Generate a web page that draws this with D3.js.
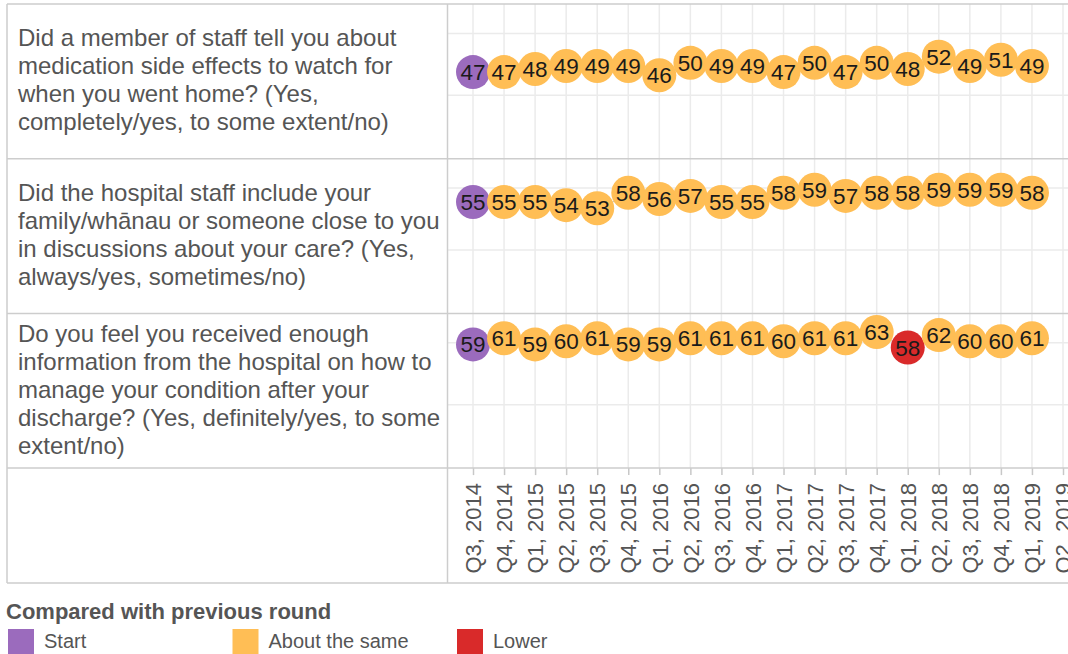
<!DOCTYPE html>
<html>
<head>
<meta charset="utf-8">
<script src="https://cdn.jsdelivr.net/npm/d3@7"></script>
<style>
  body { margin: 0; background: #fff; }
  svg { display: block; font-family: "Liberation Sans", Arial, sans-serif; }
</style>
</head>
<body>
<svg width="1068" height="654"></svg>
<script>
// quarters on the x axis
const quarters = ["Q3, 2014", "Q4, 2014", "Q1, 2015", "Q2, 2015", "Q3, 2015", "Q4, 2015",
  "Q1, 2016", "Q2, 2016", "Q3, 2016", "Q4, 2016", "Q1, 2017", "Q2, 2017", "Q3, 2017",
  "Q4, 2017", "Q1, 2018", "Q2, 2018", "Q3, 2018", "Q4, 2018", "Q1, 2019", "Q2, 2019"]

// question text, one entry per line as wrapped in the chart
const questionLines = [
  ["Did a member of staff tell you about", "medication side effects to watch for",
   "when you went home? (Yes,", "completely/yes, to some extent/no)"],
  ["Did the hospital staff include your", "family/whānau or someone close to you",
   "in discussions about your care? (Yes,", "always/yes, sometimes/no)"],
  ["Do you feel you received enough", "information from the hospital on how to",
   "manage your condition after your", "discharge? (Yes, definitely/yes, to some",
   "extent/no)"]
]

// scores per question
const sideEffects = [47, 47, 48, 49, 49, 49, 46, 50, 49, 49, 47, 50, 47, 50, 48, 52, 49, 51, 49]
const familyIncluded = [55, 55, 55, 54, 53, 58, 56, 57, 55, 55, 58, 59, 57, 58, 58, 59, 59, 59, 58]
const enoughInfo = [59, 61, 59, 60, 61, 59, 59, 61, 61, 61, 60, 61, 61, 63, 58, 62, 60, 60, 61]

// compared with previous round
const statusSideEffects = ["Start"].concat(Array(18).fill("About the same"))
const statusFamily = ["Start"].concat(Array(18).fill("About the same"))
const statusInfo = ["Start", "About the same", "About the same", "About the same", "About the same",
  "About the same", "About the same", "About the same", "About the same", "About the same",
  "About the same", "About the same", "About the same", "About the same", "Lower",
  "About the same", "About the same", "About the same", "About the same"]

const legendLabels = ["Start", "About the same", "Lower"]
const legendColors = ["#9b6bbd", "#ffbe55", "#d92a2a"]

const rows = [
  { lines: questionLines[0], values: sideEffects, status: statusSideEffects },
  { lines: questionLines[1], values: familyIncluded, status: statusFamily },
  { lines: questionLines[2], values: enoughInfo, status: statusInfo }
]

const svg = d3.select("svg")

const frameLeft = 7
const divider = 447.5
const frameTop = 4
const rowH = 154.7
const axisY = frameTop + rowH * rows.length
const frameBottom = 583
const frameRight = 1100

const color = d3.scaleOrdinal().domain(legendLabels).range(legendColors)

const x = d3.scalePoint()
  .domain(quarters)
  .range([473, 1063])

const y = d3.scaleLinear()
  .domain([19.5, 69.5])
  .range([rowH, 0])

const grid = svg.append("g")

// vertical gridlines in the plot rows
grid.selectAll("line.v")
  .data(quarters)
  .enter()
  .append("line")
  .attr("x1", d => x(d))
  .attr("x2", d => x(d))
  .attr("y1", frameTop)
  .attr("y2", axisY)
  .attr("stroke", "#ebebeb")
  .attr("stroke-width", 1.5)

rows.forEach((row, r) => {
  const g = svg.append("g")
    .attr("transform", `translate(0,${frameTop + r * rowH})`)

  // horizontal gridlines
  g.selectAll("line.h")
    .data([40, 60])
    .enter()
    .append("line")
    .attr("x1", divider)
    .attr("x2", frameRight)
    .attr("y1", d => y(d))
    .attr("y2", d => y(d))
    .attr("stroke", "#ebebeb")
    .attr("stroke-width", 1.5)

  // question label, vertically centred in the row
  const n = row.lines.length
  g.append("text")
    .attr("fill", "#555")
    .style("font-size", "24px")
    .selectAll("tspan")
    .data(row.lines)
    .enter()
    .append("tspan")
    .attr("x", 18)
    .attr("y", (d, i) => rowH / 2 + (i - (n - 1) / 2) * 28 + 7)
    .text(d => d)

  // thin line joining the points
  const line = d3.line()
    .x((d, i) => x(quarters[i]))
    .y(d => y(d))

  g.append("path")
    .datum(row.values)
    .attr("d", line)
    .attr("fill", "none")
    .attr("stroke", "#bdbdbd")
    .attr("stroke-width", 1)

  const dots = g.selectAll("g.dot")
    .data(row.values)
    .enter()
    .append("g")
    .attr("transform", (d, i) => `translate(${x(quarters[i])},${y(d) - 1.5})`)

  dots.append("circle")
    .attr("r", 17)
    .attr("fill", (d, i) => color(row.status[i]))

  dots.append("text")
    .attr("text-anchor", "middle")
    .attr("dy", "0.36em")
    .attr("fill", "#1a1a1a")
    .style("font-size", "22.5px")
    .text(d => d)
})

// x axis with rotated quarter labels
const xAxis = d3.axisBottom(x).tickSize(7).tickSizeOuter(0)

const axisG = svg.append("g")
  .attr("transform", `translate(0,${axisY})`)
  .call(xAxis)

axisG.select(".domain").remove()
axisG.selectAll(".tick line").attr("stroke", "#c8c8c8").attr("stroke-width", 1.5)
axisG.selectAll(".tick text")
  .attr("transform", "rotate(-90)")
  .attr("x", -15)
  .attr("y", 0)
  .attr("dy", "0.35em")
  .attr("text-anchor", "end")
  .attr("fill", "#555")
  .style("font-size", "22px")
  .style("font-family", "'Liberation Sans', Arial, sans-serif")

// frame and row borders
const borderYs = d3.range(rows.length + 1).map(i => frameTop + i * rowH).concat([frameBottom])
svg.selectAll("line.border")
  .data(borderYs)
  .enter()
  .append("line")
  .attr("x1", frameLeft)
  .attr("x2", frameRight)
  .attr("y1", d => d)
  .attr("y2", d => d)
  .attr("stroke", "#cdcdcd")
  .attr("stroke-width", 1.5)

svg.selectAll("line.vborder")
  .data([frameLeft, divider])
  .enter()
  .append("line")
  .attr("x1", d => d)
  .attr("x2", d => d)
  .attr("y1", frameTop)
  .attr("y2", frameBottom)
  .attr("stroke", "#cdcdcd")
  .attr("stroke-width", 1.5)

// legend
svg.append("text")
  .attr("x", 6)
  .attr("y", 619)
  .attr("fill", "#555")
  .style("font-size", "22px")
  .style("font-weight", "bold")
  .text("Compared with previous round")

const legend = svg.selectAll("g.legend")
  .data(legendLabels)
  .enter()
  .append("g")
  .attr("transform", (d, i) => `translate(${8 + i * 224.5},629)`)

legend.append("rect")
  .attr("width", 26)
  .attr("height", 26)
  .attr("fill", d => color(d))

legend.append("text")
  .attr("x", 36)
  .attr("y", 19)
  .attr("fill", "#555")
  .style("font-size", "20px")
  .text(d => d)
</script>
</body>
</html>
